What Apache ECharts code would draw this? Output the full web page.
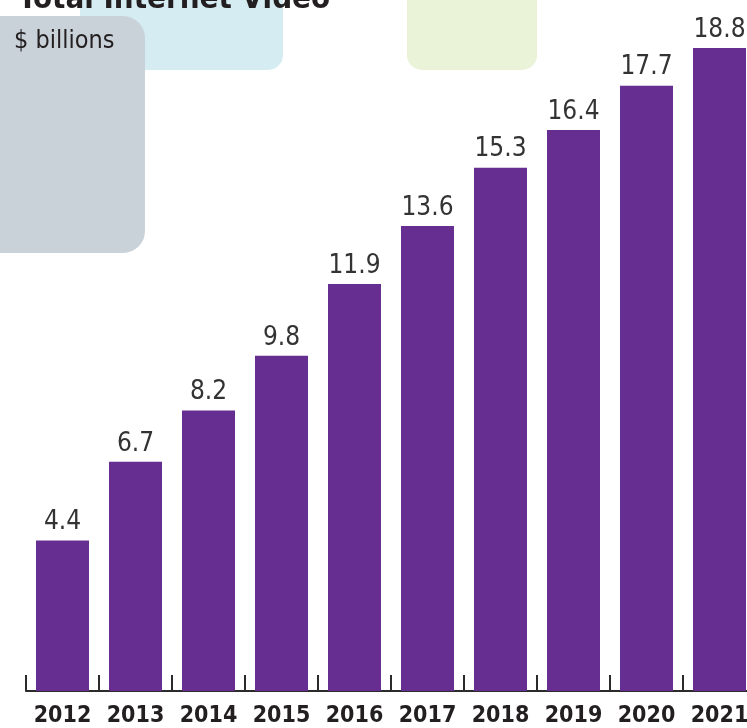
<!DOCTYPE html>
<html>
<head>
<meta charset="utf-8">
<script src="https://cdn.jsdelivr.net/npm/echarts@6/dist/echarts.min.js"></script>
<style>
html,body{margin:0;padding:0;background:#fff;}
#chart{width:747px;height:728px;}
</style>
</head>
<body>
<div id="chart"></div>
<script>
var years = ['2012','2013','2014','2015','2016','2017','2018','2019','2020','2021'];
var revenue = [4.4, 6.7, 8.2, 9.8, 11.9, 13.6, 15.3, 16.4, 17.7, 18.8];
var titleText = 'Total Internet Video';
var unitText = '$ billions';

var FONT = '"DejaVu Sans Condensed", "Liberation Sans", sans-serif';
var chart = echarts.init(document.getElementById('chart'));
chart.setOption({
  backgroundColor: '#ffffff',
  animation: false,
  grid: {left: 26, right: -9, top: 7, bottom: 37, containLabel: false, outerBoundsMode: 'none'},
  xAxis: {
    type: 'category',
    data: years,
    boundaryGap: true,
    axisLine: {show: true, lineStyle: {color: '#2b2b2b', width: 2}},
    axisTick: {show: true, inside: true, length: 16, interval: 0, lineStyle: {color: '#2b2b2b', width: 2}},
    axisLabel: {
      interval: 0,
      margin: 14,
      color: '#231f20',
      fontFamily: FONT,
      fontWeight: 'bold',
      fontSize: 23,
      hideOverlap: false
    }
  },
  yAxis: {
    type: 'value', min: 0, max: 20,
    show: false,
    splitLine: {show: false}
  },
  series: [{
    type: 'bar',
    data: revenue,
    barWidth: 53,
    itemStyle: {color: '#662e91'},
    z: 5,
    label: {
      show: true,
      position: 'top',
      distance: 5,
      color: '#333333',
      fontFamily: FONT,
      fontSize: 26,
      formatter: function (p) { return p.value.toFixed(1); }
    }
  }],
  graphic: [
    {type: 'rect', z: 0, shape: {x: 80, y: -40, width: 203, height: 110, r: 15}, style: {fill: '#d5edf2'}},
    {type: 'rect', z: 0, shape: {x: 407, y: -40, width: 130, height: 110, r: 15}, style: {fill: '#eaf2d7'}},
    {type: 'rect', z: 1, shape: {x: -40, y: 16, width: 185, height: 237, r: 22}, style: {fill: '#c9d2d9'}},
    {type: 'text', z: 10, left: 18, top: -16, style: {text: titleText, fill: '#231f20', font: 'bold 31px ' + FONT}},
    {type: 'text', z: 10, left: 14, top: 29, style: {text: unitText, fill: '#231f20', font: '25px ' + FONT}}
  ]
});
</script>
</body>
</html>
